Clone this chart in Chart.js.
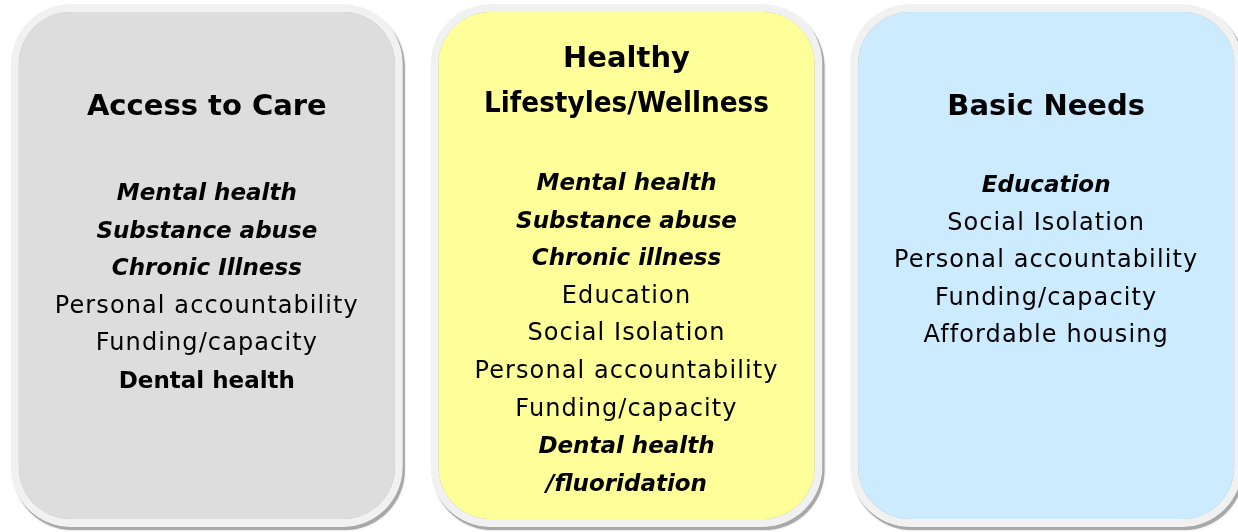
<!DOCTYPE html>
<html>
<head>
<meta charset="utf-8">
<script src="https://cdn.jsdelivr.net/npm/chart.js@4"></script>
<style>
  html, body { margin: 0; padding: 0; background: #fff; overflow: hidden; }
  #wrap { position: absolute; left: -3px; top: 0; width: 1259px; height: 532px; }
</style>
</head>
<body>
<div id="wrap"><canvas id="boxesChart" width="1259" height="532"></canvas></div>
<script>
// three columns, one box each
const categories = ['Access to Care', 'Healthy Lifestyles/Wellness', 'Basic Needs'];
const titleLines = [['Access to Care'], ['Healthy', 'Lifestyles/Wellness'], ['Basic Needs']];
const boxValues = [1, 1, 1];
const boxColors = ['#dddddd', '#ffff99', '#cdebff'];

// bi = bold italic, b = bold, r = regular
const accessItems = ['Mental health', 'Substance abuse', 'Chronic Illness', 'Personal accountability', 'Funding/capacity', 'Dental health'];
const accessStyles = ['bi', 'bi', 'bi', 'r', 'r', 'b'];
const lifestyleItems = ['Mental health', 'Substance abuse', 'Chronic illness', 'Education', 'Social Isolation', 'Personal accountability', 'Funding/capacity', 'Dental health', '/fluoridation'];
const lifestyleStyles = ['bi', 'bi', 'bi', 'r', 'r', 'r', 'r', 'bi', 'bi'];
const needsItems = ['Education', 'Social Isolation', 'Personal accountability', 'Funding/capacity', 'Affordable housing'];
const needsStyles = ['bi', 'r', 'r', 'r', 'r'];

const itemLists = [accessItems, lifestyleItems, needsItems];
const styleLists = [accessStyles, lifestyleStyles, needsStyles];

const RADIUS = 60;

// drop shadow under each box (bottom / right)
const shadowPlugin = {
    id: 'boxShadow',
    beforeDatasetsDraw(chart) {
        const ctx = chart.ctx;
        const meta = chart.getDatasetMeta(0);
        ctx.save();
        meta.data.forEach(el => {
            const p = el.getProps(['x', 'y', 'base', 'width'], true);
            ctx.fillStyle = '#a8a8a8';
            ctx.shadowColor = 'rgba(0,0,0,0.25)';
            ctx.shadowBlur = 2;
            ctx.beginPath();
            ctx.roundRect(p.x - p.width / 2 + 2, p.y + 3, p.width, p.base - p.y, RADIUS);
            ctx.fill();
        });
        ctx.restore();
    }
};

// titles and item lists inside the boxes
const textPlugin = {
    id: 'boxText',
    afterDatasetsDraw(chart) {
        const ctx = chart.ctx;
        const meta = chart.getDatasetMeta(0);
        const itemTop = [200, 190, 192];
        const lineGap = 37.6;
        ctx.save();
        ctx.textAlign = 'center';
        ctx.textBaseline = 'alphabetic';
        ctx.fillStyle = '#000';
        meta.data.forEach((el, i) => {
            const x = el.x;
            const lines = titleLines[i];
            ctx.font = 'bold 29px "DejaVu Sans"';
            ctx.letterSpacing = '0px';
            if (lines.length === 1) {
                ctx.fillText(lines[0], x, 115, 285);
            } else {
                ctx.fillText(lines[0], x, 67, 285);
                ctx.fillText(lines[1], x, 112, 285);
            }
            itemLists[i].forEach((txt, j) => {
                const st = styleLists[i][j];
                if (st === 'bi') {
                    ctx.font = 'italic bold 23px "DejaVu Sans"';
                    ctx.letterSpacing = '0px';
                } else if (st === 'b') {
                    ctx.font = 'bold 23px "DejaVu Sans"';
                    ctx.letterSpacing = '0px';
                } else {
                    ctx.font = '24px "DejaVu Sans"';
                    ctx.letterSpacing = '1.1px';
                }
                ctx.fillText(txt, x, itemTop[i] + j * lineGap);
            });
        });
        ctx.restore();
    }
};

new Chart(document.getElementById('boxesChart'), {
    type: 'bar',
    data: {
        labels: categories,
        datasets: [{
            data: boxValues,
            backgroundColor: boxColors,
            borderColor: '#f1f1f1',
            borderWidth: 8,
            borderRadius: RADIUS,
            borderSkipped: false,
            barPercentage: 0.934,
            categoryPercentage: 1
        }]
    },
    options: {
        responsive: false,
        animation: false,
        devicePixelRatio: 1,
        layout: { padding: { top: 4, bottom: 5, left: 0, right: 0 } },
        plugins: {
            legend: { display: false },
            tooltip: { enabled: false }
        },
        scales: {
            x: { display: false },
            y: { display: false, min: 0, max: 1 }
        }
    },
    plugins: [shadowPlugin, textPlugin]
});
</script>
</body>
</html>
